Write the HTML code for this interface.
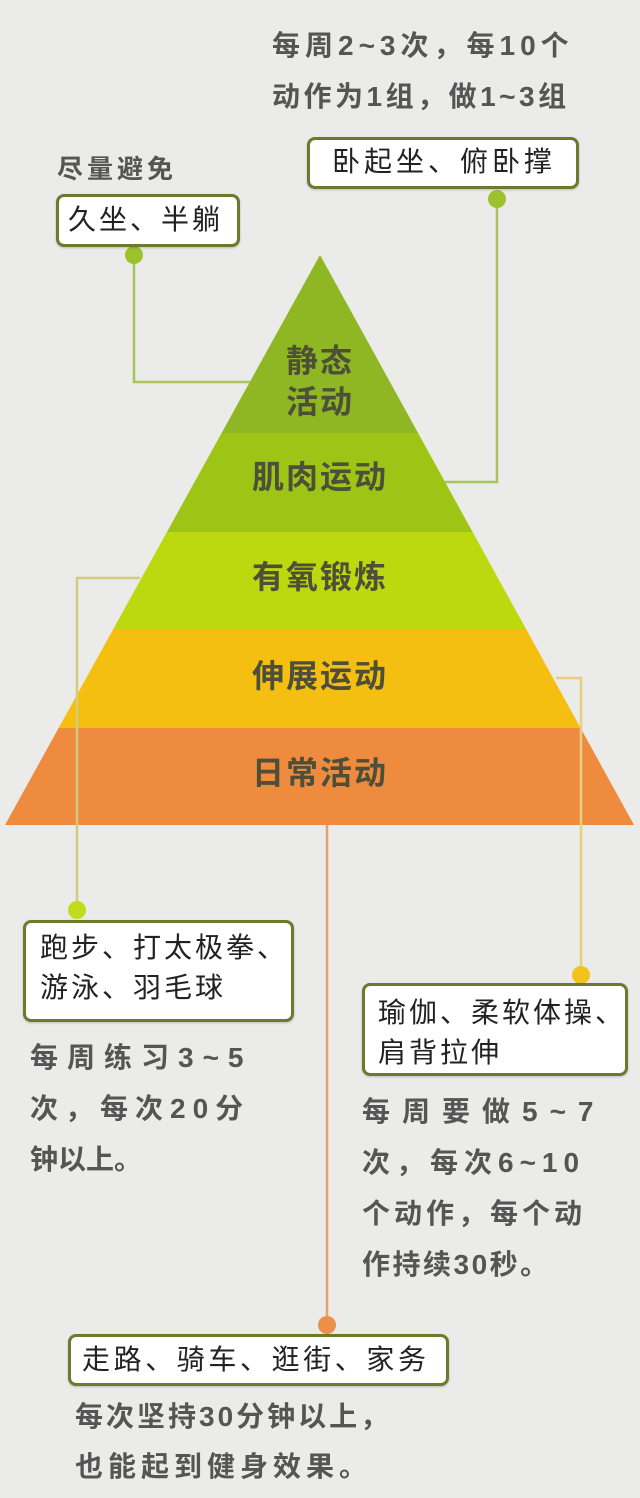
<!DOCTYPE html>
<html><head><meta charset="utf-8"><style>
*{margin:0;padding:0;box-sizing:border-box}
body{width:640px;height:1498px;background:#ebebe9;position:relative;overflow:hidden;font-family:"Liberation Sans","Noto Sans CJK SC",sans-serif}
.t{position:absolute;white-space:nowrap;line-height:1}
.b{font-weight:bold;color:#555;font-size:28px}
.box{position:absolute;background:#fff;border:3px solid #6b7a2c;border-radius:8px;box-shadow:0 1px 2px rgba(0,0,0,.2)}
.bt{position:absolute;white-space:nowrap;line-height:1;font-size:28px;color:#222;letter-spacing:3px}
.pl{position:absolute;width:240px;left:200px;text-align:center;font-size:32px;font-weight:bold;color:#4d4f38;line-height:1;letter-spacing:2px}
</style></head><body>
<svg width="640" height="1498" style="position:absolute;left:0;top:0">
<defs><clipPath id="pc"><polygon points="320,255 634,825 5,825"/></clipPath></defs>
<g clip-path="url(#pc)">
<rect x="0" y="250" width="640" height="184" fill="#8fb723"/>
<rect x="0" y="433" width="640" height="100" fill="#9ec515"/>
<rect x="0" y="532" width="640" height="99" fill="#bcd80f"/>
<rect x="0" y="630" width="640" height="99" fill="#f4bf10"/>
<rect x="0" y="728" width="640" height="97" fill="#ee8b3e"/>
</g>
<g fill="none" stroke-width="2.5">
<polyline points="134,255 134,382 250,382" stroke="#a9c55a"/>
<polyline points="497,199 497,482 445,482" stroke="#a9c55a"/>
<polyline points="140,578 77,578 77,910" stroke="#d3cc7e"/>
<polyline points="556,678 581,678 581,975" stroke="#e8cf80"/>
<line x1="327" y1="825" x2="327" y2="1325" stroke="#e8a06a"/>
</g>
<circle cx="134" cy="255" r="9" fill="#9cc22e"/>
<circle cx="497" cy="199" r="9" fill="#9cc22e"/>
<circle cx="77" cy="910" r="9" fill="#c2dc1c"/>
<circle cx="581" cy="975" r="9" fill="#f4c21c"/>
<circle cx="327" cy="1325" r="9" fill="#ee8f48"/>
</svg>

<div class="t b" style="left:272px;top:32px;letter-spacing:5px">每周2~3次，每10个</div>
<div class="t b" style="left:272px;top:83px;letter-spacing:3.5px">动作为1组，做1~3组</div>
<div class="t b" style="left:57px;top:156px;font-size:26px;letter-spacing:4px">尽量避免</div>

<div class="box" style="left:56px;top:194px;width:184px;height:53px"></div>
<div class="bt" style="left:68px;top:206px">久坐、半躺</div>
<div class="box" style="left:307px;top:137px;width:272px;height:52px"></div>
<div class="bt" style="left:332px;top:148px;letter-spacing:4px">卧起坐、俯卧撑</div>

<div class="pl" style="top:345px">静态</div>
<div class="pl" style="top:386px">活动</div>
<div class="pl" style="top:461px">肌肉运动</div>
<div class="pl" style="top:561px">有氧锻炼</div>
<div class="pl" style="top:660px">伸展运动</div>
<div class="pl" style="top:757px">日常活动</div>

<div class="box" style="left:23px;top:920px;width:271px;height:102px"></div>
<div class="bt" style="left:40px;top:934px">跑步、打太极拳、</div>
<div class="bt" style="left:40px;top:974px">游泳、羽毛球</div>
<div class="t b" style="left:30px;top:1044px;letter-spacing:9px">每周练习3~5</div>
<div class="t b" style="left:30px;top:1095px;letter-spacing:7px">次，每次20分</div>
<div class="t b" style="left:30px;top:1146px">钟以上。</div>

<div class="box" style="left:362px;top:983px;width:266px;height:93px"></div>
<div class="bt" style="left:378px;top:999px">瑜伽、柔软体操、</div>
<div class="bt" style="left:378px;top:1039px">肩背拉伸</div>
<div class="t b" style="left:362px;top:1098px;letter-spacing:12px">每周要做5~7</div>
<div class="t b" style="left:362px;top:1149px;letter-spacing:6px">次，每次6~10</div>
<div class="t b" style="left:362px;top:1200px;letter-spacing:4px">个动作，每个动</div>
<div class="t b" style="left:362px;top:1251px;letter-spacing:2.5px">作持续30秒。</div>

<div class="box" style="left:68px;top:1334px;width:381px;height:52px"></div>
<div class="bt" style="left:82px;top:1346px;letter-spacing:3.6px">走路、骑车、逛街、家务</div>
<div class="t b" style="left:75px;top:1403px;letter-spacing:3px">每次坚持30分钟以上，</div>
<div class="t b" style="left:75px;top:1453px;letter-spacing:5px">也能起到健身效果。</div>
</body></html>
